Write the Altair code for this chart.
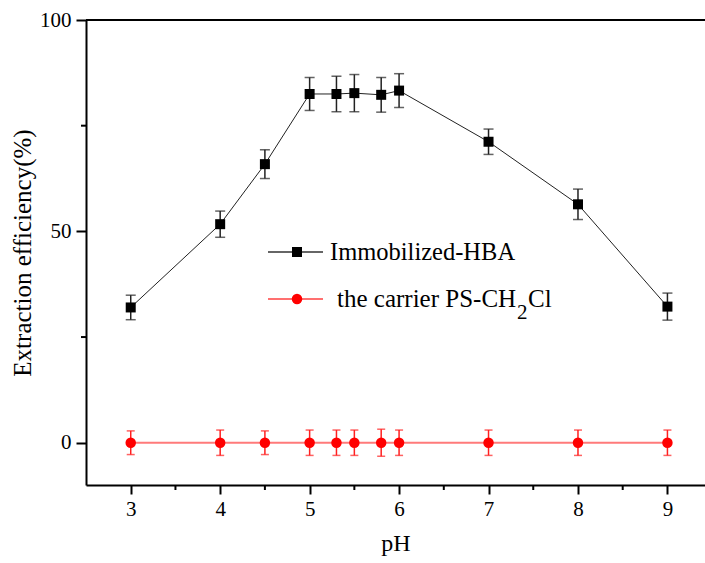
import altair as alt
import pandas as pd

ph = [3, 4, 4.5, 5, 5.3, 5.5, 5.8, 6, 7, 8, 9]
hba = [32.0, 51.7, 65.9, 82.5, 82.5, 82.7, 82.3, 83.3, 71.2, 56.4, 32.2]
hba_err = [2.9, 3.1, 3.4, 3.9, 4.2, 4.4, 4.1, 4.0, 3.0, 3.6, 3.2]
carrier = [0.0, 0.0, 0.0, 0.0, 0.0, 0.0, 0.0, 0.0, 0.0, 0.0, 0.0]
carrier_err = [2.8, 3.0, 2.8, 3.0, 3.0, 3.0, 3.2, 3.0, 3.0, 3.0, 3.0]

x_major = [3, 4, 5, 6, 7, 8, 9]
x_minor = [3.5, 4.5, 5.5, 6.5, 7.5, 8.5]
y_major = [0, 50, 100]
y_minor = [25, 75]

FONT = "Times New Roman, Liberation Serif, serif"
W, H = 619, 465

d1 = pd.DataFrame({"ph": ph, "v": hba,
                   "lo": [a - b for a, b in zip(hba, hba_err)],
                   "hi": [a + b for a, b in zip(hba, hba_err)]})
d2 = pd.DataFrame({"ph": ph, "v": carrier,
                   "lo": [a - b for a, b in zip(carrier, carrier_err)],
                   "hi": [a + b for a, b in zip(carrier, carrier_err)]})
one = pd.DataFrame({"k": [0]})

xs = alt.Scale(domain=[2.5, 9.42], nice=False, zero=False)
ys = alt.Scale(domain=[-10, 100], nice=False, zero=False)

xaxis = alt.Axis(values=x_major, title="pH", tickSize=9, labelPadding=4, titlePadding=12,
                 titleFontSize=24)
yaxis = alt.Axis(values=y_major, title="Extraction efficiency(%)", tickSize=10,
                 labelPadding=5, titlePadding=4, titleFontSize=25)

X = alt.X("ph:Q", scale=xs, axis=xaxis, title="pH")
Y = alt.Y("v:Q", scale=ys, axis=yaxis, title="Extraction efficiency(%)")
Ylo = alt.Y("lo:Q", scale=ys, axis=yaxis, title="Extraction efficiency(%)")
Yhi = alt.Y("hi:Q", scale=ys, axis=yaxis, title="Extraction efficiency(%)")


def series(df, line_color, line_w, mark_color, shape, size, cap, err_color):
    b = alt.Chart(df)
    line = b.mark_line(color=line_color, strokeWidth=line_w).encode(x=X, y=Y)
    rule = b.mark_rule(color=err_color, strokeWidth=1.5).encode(x=X, y=Ylo, y2="hi:Q")
    cap_lo = b.mark_tick(color=err_color, orient="horizontal", size=cap, thickness=1.5).encode(x=X, y=Ylo)
    cap_hi = b.mark_tick(color=err_color, orient="horizontal", size=cap, thickness=1.5).encode(x=X, y=Yhi)
    pts = b.mark_point(shape=shape, filled=True, opacity=1, color=mark_color, size=size).encode(x=X, y=Y)
    return [line, rule, cap_lo, cap_hi, pts]


top_border = alt.Chart(one).mark_rule(color="black", strokeWidth=2).encode(
    x=alt.value(0), x2=alt.value(W), y=alt.value(0))

# minor ticks
xminor = alt.Chart(pd.DataFrame({"ph": x_minor})).mark_rule(color="black", strokeWidth=2).encode(
    x=X, y=alt.value(H), y2=alt.value(H + 5))
yminor = alt.Chart(pd.DataFrame({"v": y_minor})).mark_rule(color="black", strokeWidth=2).encode(
    y=Y, x=alt.value(-5), x2=alt.value(0))

s1 = series(d1, "#222222", 1, "black", "square", 100, 10, "#222222")
s2 = series(d2, "#ff7a7a", 2, "#ff0000", "circle", 110, 8, "#ff2020")

# legend
leg_line1 = alt.Chart(one).mark_rule(color="#666666", strokeWidth=2).encode(
    x=alt.value(182), x2=alt.value(237), y=alt.value(232))
leg_pt1 = alt.Chart(one).mark_point(shape="square", filled=True, opacity=1, color="black", size=100).encode(
    x=alt.value(211), y=alt.value(232))
leg_txt1 = alt.Chart(one).mark_text(text="Immobilized-HBA", font=FONT, fontSize=24.5, align="left",
                                    baseline="alphabetic", color="black").encode(
    x=alt.value(244), y=alt.value(240))
leg_line2 = alt.Chart(one).mark_rule(color="#ff4040", strokeWidth=1.5).encode(
    x=alt.value(182), x2=alt.value(237), y=alt.value(279))
leg_pt2 = alt.Chart(one).mark_point(shape="circle", filled=True, opacity=1, color="#ff0000", size=110).encode(
    x=alt.value(211), y=alt.value(279))
leg_txt2a = alt.Chart(one).mark_text(text="the carrier PS-CH", font=FONT, fontSize=25, align="left",
                                     baseline="alphabetic", color="black").encode(
    x=alt.value(251), y=alt.value(287))
leg_txt2b = alt.Chart(one).mark_text(text="2", font=FONT, fontSize=21, align="left",
                                     baseline="alphabetic", color="black").encode(
    x=alt.value(431), y=alt.value(299))
leg_txt2c = alt.Chart(one).mark_text(text="Cl", font=FONT, fontSize=25, align="left",
                                     baseline="alphabetic", color="black").encode(
    x=alt.value(442), y=alt.value(287))

chart = alt.layer(
    top_border, xminor, yminor, *s2, *s1,
    leg_line1, leg_pt1, leg_txt1, leg_line2, leg_pt2, leg_txt2a, leg_txt2b, leg_txt2c
).properties(
    width=W, height=H, autosize="none",
    padding={"left": 86, "top": 20, "right": 0, "bottom": 78}
).configure(
    background="white", font=FONT
).configure_view(
    stroke="transparent"
).configure_axis(
    labelFontSize=21, titleFontSize=22, labelFont=FONT, titleFont=FONT,
    titleFontWeight="normal", domainWidth=2, tickWidth=2, domainColor="black",
    tickColor="black", labelColor="black", titleColor="black", grid=False
)

chart.save("out.html", embed_options={"renderer": "svg", "actions": False})
